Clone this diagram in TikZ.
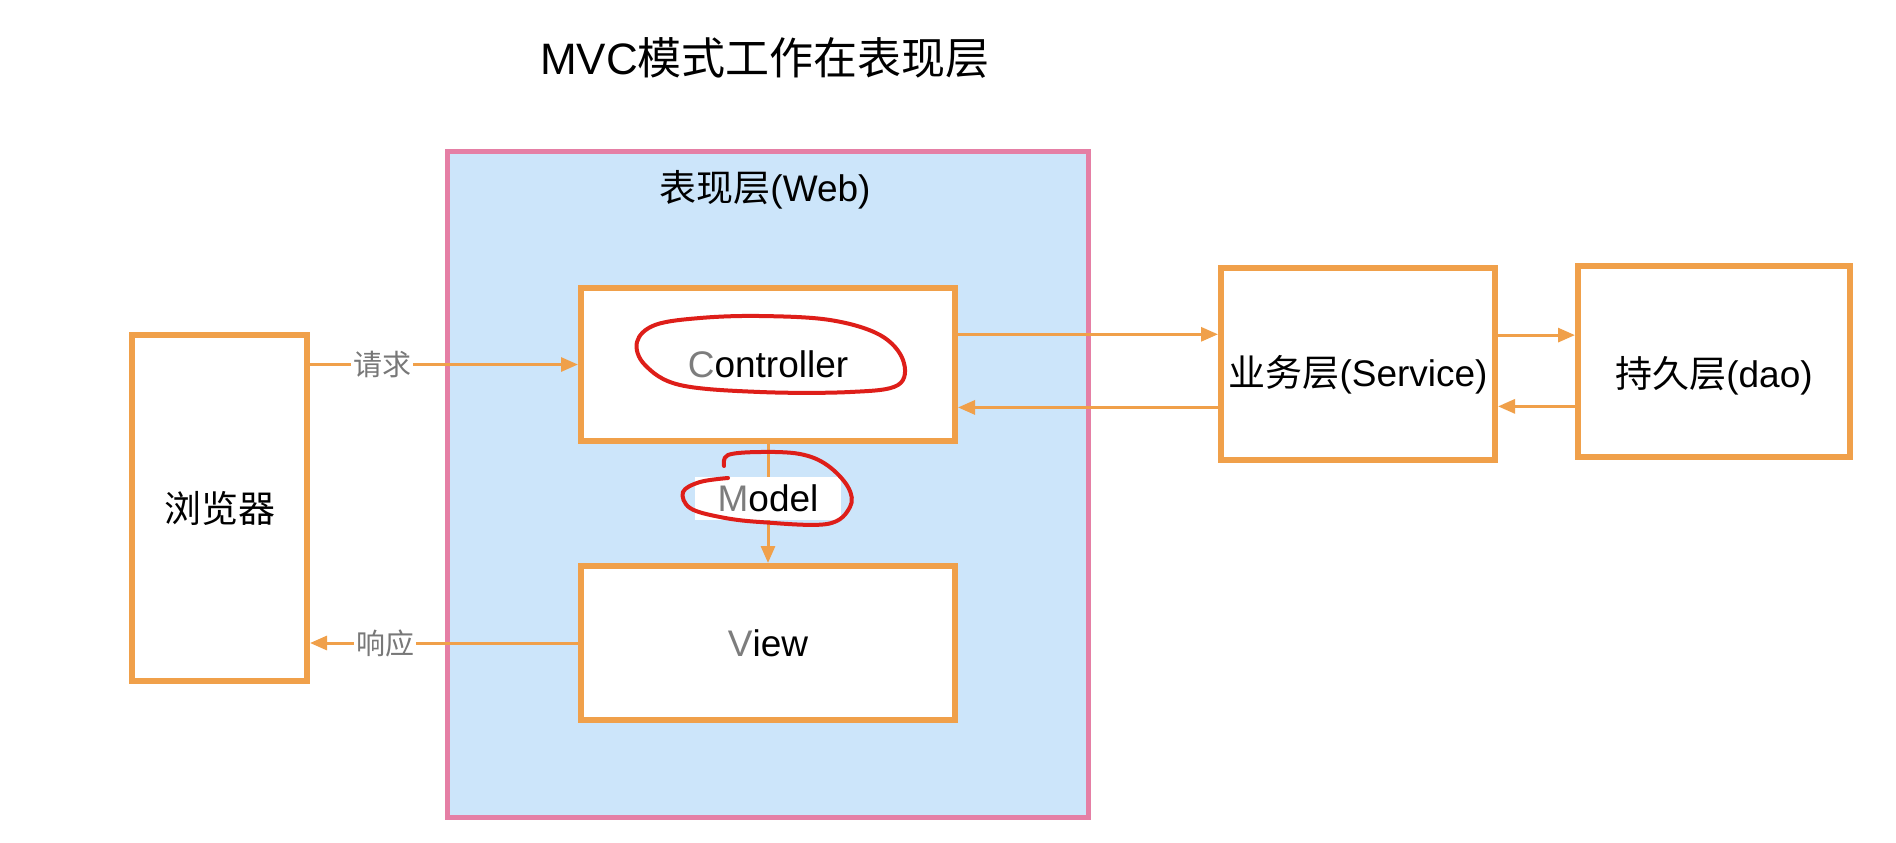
\documentclass[tikz,border=0pt]{standalone}
\usepackage{fontspec}
\setmainfont{Liberation Sans}
\newfontfamily\cjk{Noto Sans CJK SC}
\usetikzlibrary{arrows.meta,calc}
\definecolor{org}{RGB}{240,160,74}
\definecolor{webblue}{RGB}{204,229,250}
\definecolor{pinkb}{RGB}{229,127,165}
\definecolor{lblgray}{RGB}{120,120,120}
\definecolor{ltr}{RGB}{125,125,125}
\definecolor{redpen}{RGB}{222,30,25}
\tikzset{
  box/.style={draw=org, line width=3pt, fill=white, inner sep=0pt},
  arr/.style={draw=org, line width=1.5pt, -{Triangle[length=8.5pt,width=7pt]}},
  lbl/.style={font=\fontsize{18.5}{22}\selectfont},
  armlbl/.style={fill=white, text=lblgray, inner sep=1pt, font=\cjk\fontsize{14.5}{17}\selectfont},
  pen/.style={draw=redpen, line width=2pt, line cap=round, line join=round}
}
\begin{document}
\begin{tikzpicture}[x=0.5pt,y=-0.5pt]
\useasboundingbox (0,0) rectangle (1896,842);
\node[font=\fontsize{22}{26}\selectfont] (title) at (765,58) {MVC{\cjk 模式工作在表现层}};
\node[draw=pinkb, line width=2.5pt, fill=webblue, minimum width=320.5pt, minimum height=333pt, inner sep=0pt] (web) at (767.5,484) {};
\node[lbl] (weblbl) at (765,190) {{\cjk 表现层}(Web)};
\node[box, minimum width=87.5pt, minimum height=173pt, lbl] (browser) at (219.5,508) {\cjk 浏览器};
\node[box, minimum width=187pt, minimum height=76.5pt, lbl] (ctrl) at (768,364.5) {\textcolor{ltr}{C}ontroller};
\node[box, minimum width=187pt, minimum height=77pt, lbl] (view) at (768,643) {\textcolor{ltr}{V}iew};
\node[box, minimum width=137pt, minimum height=96pt, label={[lbl, yshift=-5.5pt]center:{\cjk 业务层}(Service)}] (service) at (1358,364) {};
\node[box, minimum width=136pt, minimum height=95.5pt, label={[lbl, yshift=-7pt]center:{\cjk 持久层}(dao)}] (dao) at (1714,361.5) {};
% request / response
\draw[arr] (browser.east |- ctrl) -- node[armlbl, pos=0.27] {请求} (ctrl.west);
\draw[arr] (view.west) -- node[armlbl, pos=0.72] {响应} (browser.east |- view);
% controller <-> service
\coordinate (c1) at ($(ctrl.north east)!0.31!(ctrl.south east)$);
\coordinate (c2) at ($(ctrl.north east)!0.77!(ctrl.south east)$);
\draw[arr] (c1) -- (c1 -| service.west);
\draw[arr] (c2 -| service.west) -- (c2);
% service <-> dao
\coordinate (s1) at ($(service.north east)!0.354!(service.south east)$);
\coordinate (s2) at ($(service.north east)!0.714!(service.south east)$);
\draw[arr] (s1) -- (s1 -| dao.west);
\draw[arr] (s2 -| dao.west) -- (s2);
% model
\draw[arr] (ctrl.south) -- node[pos=0.46, fill=white, inner sep=0pt, minimum width=73pt, minimum height=21.5pt, lbl] (model) {\textcolor{ltr}{M}odel} (view.north);
% red pen annotations
\draw[pen] plot[smooth cycle, tension=0.6] coordinates {(655,325) (700,318) (760,316) (830,320) (880,335) (903,360) (898,385) (850,392) (760,392) (680,385) (645,365) (637,342)};
\draw[pen] plot[smooth, tension=0.6] coordinates {(728,478) (700,482) (683,492) (690,508) (720,517) (760,522) (827,524) (850,507) (848,487) (827,465) (800,454) (760,452) (728,455) (724,466)};
\end{tikzpicture}
\end{document}
